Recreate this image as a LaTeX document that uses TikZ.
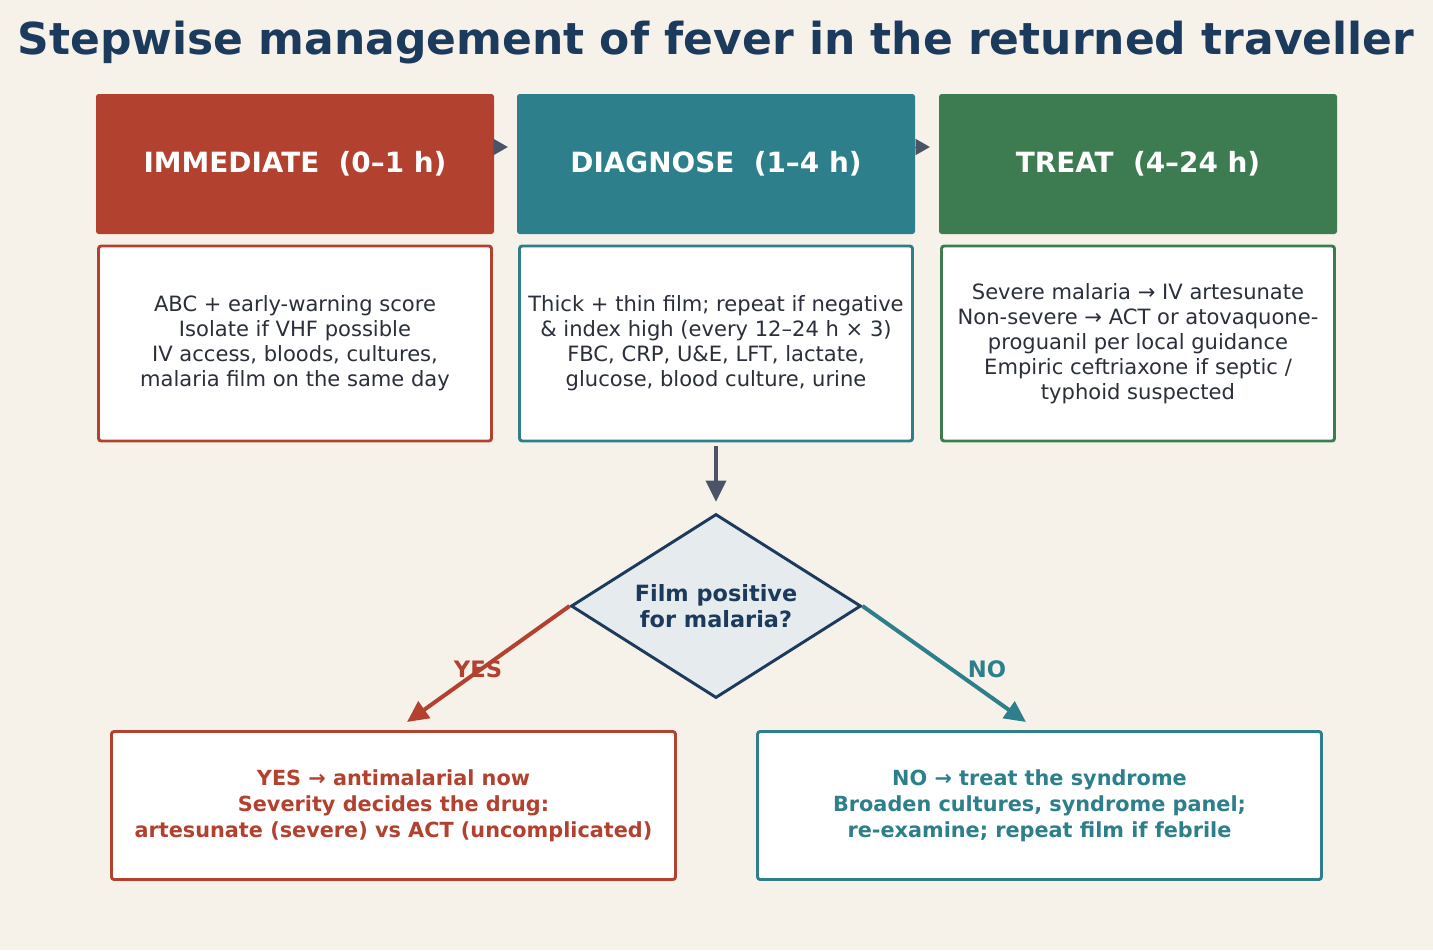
\documentclass[tikz,border=0pt]{standalone}
\usepackage{fontspec}
\setmainfont{DejaVu Sans}
\usetikzlibrary{shapes.geometric,arrows.meta,calc}
\definecolor{bg}{HTML}{F6F2EA}
\definecolor{cred}{HTML}{B3412F}
\definecolor{cteal}{HTML}{2C7F8B}
\definecolor{cgreen}{HTML}{3D7B50}
\definecolor{navy}{HTML}{1C3A5C}
\definecolor{agray}{HTML}{4A5466}
\definecolor{dfill}{HTML}{E6ECEE}
\definecolor{btext}{HTML}{2A2F3A}
\begin{document}
\begin{tikzpicture}[x=0.75pt,y=-0.75pt,
  hdr/.style={rectangle, rounded corners=2pt, minimum width=398*0.75pt, minimum height=140*0.75pt,
    inner sep=0pt, text=white, font=\fontsize{20.9}{24}\selectfont\bfseries},
  bodybox/.style={rectangle, rounded corners=2pt, draw, line width=2.2pt, fill=white,
    minimum width=393*0.75pt, minimum height=195*0.75pt, inner sep=0pt, align=center,
    text=btext, font=\fontsize{15.8}{18.75}\selectfont},
  resbox/.style={rectangle, rounded corners=2pt, draw, line width=2.2pt, fill=white,
    minimum width=564*0.75pt, minimum height=148*0.75pt, inner sep=0pt, align=center,
    font=\fontsize{15.6}{19.5}\selectfont\bfseries},
  flow/.style={line width=3pt, -{Triangle[length=16pt,width=15pt]}},
  hdrarrow/.style={agray, -{Triangle[length=10.5pt,width=12pt]}, line width=0.1pt},
  lbl/.style={font=\fontsize{17}{20}\selectfont\bfseries}
]
\fill[bg] (0,0) rectangle (1433,950);
\useasboundingbox (0,0) rectangle (1433,950);

\node[text=navy, font=\fontsize{33}{38}\selectfont\bfseries] (title) at (716,43) {Stepwise management of fever in the returned traveller};

\node[hdr, fill=cred] (h1) at (295,164) {IMMEDIATE\ \ (0–1 h)};
\node[hdr, fill=cteal] (h2) at (716,164) {DIAGNOSE\ \ (1–4 h)};
\node[hdr, fill=cgreen] (h3) at (1138,164) {TREAT\ \ (4–24 h)};
\draw[hdrarrow] ([yshift=12.75pt]h1.east) -- ([xshift=-6.75pt,yshift=12.75pt]h2.west);
\draw[hdrarrow] ([yshift=12.75pt]h2.east) -- ([xshift=-6.75pt,yshift=12.75pt]h3.west);

\node[bodybox, draw=cred] (b1) at (295,343.5) {ABC + early-warning score\\Isolate if VHF possible\\IV access, bloods, cultures,\\malaria film on the same day};
\node[bodybox, draw=cteal] (b2) at (716,343.5) {Thick + thin film; repeat if negative\\\& index high (every 12–24 h × 3)\\FBC, CRP, U\&E, LFT, lactate,\\glucose, blood culture, urine};
\node[bodybox, draw=cgreen] (b3) at (1138,343.5) {Severe malaria → IV artesunate\\Non-severe → ACT or atovaquone-\\proguanil per local guidance\\Empiric ceftriaxone if septic /\\typhoid suspected};

\node[diamond, draw=navy, line width=2.2pt, fill=dfill, shape aspect=1.576,
  minimum width=290*0.75pt, minimum height=184*0.75pt, inner sep=0pt, align=center,
  text=navy, font=\fontsize{16.8}{19.5}\selectfont\bfseries] (d) at (716,606) {Film positive\\for malaria?};

\draw[flow, agray] ([yshift=-3pt]b2.south) -- ([yshift=8pt]d.north);

\node[resbox, draw=cred, text=cred] (r1) at (393.5,805.5) {YES → antimalarial now\\Severity decides the drug:\\artesunate (severe) vs ACT (uncomplicated)};
\node[resbox, draw=cteal, text=cteal] (r2) at (1039.5,805.5) {NO → treat the syndrome\\Broaden cultures, syndrome panel;\\re-examine; repeat film if febrile};

\coordinate (yesend) at (407,722);
\coordinate (noend) at (1026,722);
\draw[flow, cred] (d.west) -- (yesend);
\draw[flow, cteal] (d.east) -- (noend);
\node[lbl, text=cred] (yes) at (478,669) {YES};
\node[lbl, text=cteal] (no) at (987,669) {NO};
\end{tikzpicture}
\end{document}
